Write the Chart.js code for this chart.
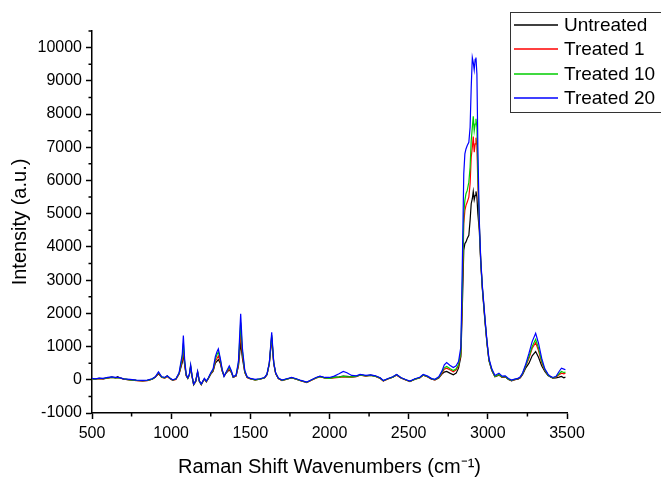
<!DOCTYPE html>
<html lang="en">
<head>
    <meta charset="UTF-8">
    <title>Raman spectra</title>
    <script src="https://cdn.jsdelivr.net/npm/chart.js"></script>
    <style>
        body { margin: 0; background: #fff; }
    </style>
</head>
<body>
    <canvas id="spectra" width="661" height="477"></canvas>
    <script>
        // wavenumbers (cm-1) shared by all four spectra
        const wavenumbers = [500, 520, 545, 570, 600, 625, 650, 662, 675, 700,
            740, 780, 820, 850, 880, 900, 920, 940, 960, 975,
            995, 1010, 1030, 1050, 1062, 1070, 1077, 1085, 1095, 1105,
            1115, 1123, 1132, 1142, 1155, 1167, 1178, 1190, 1200, 1210,
            1222, 1235, 1250, 1265, 1279, 1290, 1298, 1310, 1322, 1334,
            1350, 1367, 1380, 1392, 1410, 1425, 1439, 1450, 1465, 1480,
            1500, 1530, 1560, 1590, 1605, 1620, 1635, 1648, 1660, 1677,
            1700, 1730, 1761, 1790, 1820, 1856, 1890, 1915, 1940, 1970,
            2000, 2030, 2060, 2087, 2110, 2140, 2170, 2193, 2230, 2260,
            2290, 2320, 2340, 2370, 2400, 2424, 2450, 2480, 2508, 2540,
            2570, 2592, 2620, 2645, 2666, 2690, 2710, 2725, 2740, 2760,
            2782, 2800, 2815, 2830, 2840, 2848, 2855, 2862, 2870, 2880,
            2888, 2895, 2902, 2908, 2914, 2920, 2925, 2931, 2937, 2946,
            2955, 2965, 2982, 2995, 3007, 3025, 3045, 3070, 3090, 3110,
            3130, 3150, 3170, 3190, 3205, 3220, 3240, 3260, 3280, 3302,
            3320, 3340, 3360, 3380, 3393, 3410, 3430, 3450, 3465, 3480,
            3490];

        const untreated = [30, 20, 40, 30, 60, 80, 60, 90, 60, 20,
            0, -20, -30, -20, 20, 80, 180, 80, 60, 110,
            30, -10, 20, 180, 380, 520, 780, 450, 120, 40,
            150, 380, 100, -150, -50, 220, -50, -140, -50, 30,
            -60, 40, 170, 260, 500, 560, 610, 500, 260, 120,
            220, 300, 220, 80, 110, 420, 1110, 650, 220, 70,
            30, 0, 20, 60, 150, 480, 1250, 480, 190, 40,
            -20, 20, 60, 20, -30, -80, 0, 60, 100, 60,
            50, 80, 90, 110, 100, 90, 100, 150, 120, 140,
            110, 50, -30, 30, 80, 150, 60, 0, -50, 20,
            60, 140, 90, 20, 0, 50, 170, 230, 250, 200,
            150, 200, 350, 700, 2400, 3900, 4100, 4150, 4250, 4350,
            4800, 5300, 5450, 5670, 5420, 5550, 5670, 5500, 5000, 4500,
            3550, 2750, 1750, 1080, 580, 280, 90, 140, 70, 90,
            10, -30, 0, 20, 60, 160, 360, 500, 720, 850,
            680, 420, 250, 130, 90, 50, 60, 80, 100, 60,
            80];

        const treated1 = [20, 25, 35, 30, 50, 75, 55, 60, 55, 20,
            -5, -25, -30, -25, 15, 75, 200, 70, 50, 100,
            20, -20, 10, 170, 420, 600, 950, 500, 130, 45,
            150, 400, 100, -140, -50, 230, -40, -150, -60, 20,
            -60, 40, 180, 280, 560, 650, 720, 560, 280, 110,
            230, 330, 230, 70, 120, 450, 1420, 750, 230, 70,
            25, -5, 15, 55, 150, 490, 1300, 490, 190, 40,
            -25, 15, 55, 15, -35, -85, -5, 50, 90, 55,
            40, 60, 70, 90, 80, 80, 95, 140, 110, 130,
            100, 40, -35, 25, 75, 140, 55, -5, -55, 15,
            55, 135, 85, 15, -5, 60, 200, 320, 350, 300,
            240, 300, 420, 800, 2800, 4700, 5100, 5250, 5350, 5500,
            5900, 6700, 7000, 7320, 6850, 7100, 7290, 7050, 5900, 4650,
            3600, 2800, 1800, 1100, 600, 290, 100, 150, 80, 95,
            15, -25, 5, 25, 70, 180, 420, 650, 950, 1120,
            880, 520, 290, 150, 100, 60, 80, 150, 200, 180,
            200];

        const treated10 = [30, 20, 45, 35, 60, 70, 60, 65, 60, 25,
            0, -20, -25, -20, 20, 80, 220, 80, 60, 110,
            30, -10, 20, 190, 480, 680, 1100, 550, 140, 50,
            160, 420, 110, -140, -40, 240, -40, -140, -50, 30,
            -50, 50, 190, 300, 620, 760, 840, 620, 300, 110,
            240, 380, 250, 80, 130, 500, 1720, 850, 250, 80,
            30, 0, 20, 60, 160, 500, 1350, 500, 200, 45,
            -20, 20, 60, 20, -30, -80, 0, 55, 95, 60,
            45, 70, 80, 100, 90, 85, 100, 145, 115, 135,
            105, 45, -30, 30, 80, 150, 60, 0, -50, 20,
            60, 145, 95, 25, 5, 70, 230, 360, 400, 340,
            280, 330, 460, 850, 3000, 5000, 5400, 5600, 5700, 5950,
            6400, 7200, 7600, 7930, 7500, 7700, 7860, 7600, 6200, 4700,
            3600, 2800, 1800, 1100, 600, 300, 100, 160, 90, 100,
            20, -20, 10, 30, 80, 190, 440, 700, 1000, 1220,
            950, 560, 300, 150, 100, 60, 90, 180, 250, 220,
            230];

        const treated20 = [40, 30, 50, 40, 70, 85, 70, 70, 65, 30,
            10, -10, -20, -10, 30, 90, 240, 90, 70, 120,
            40, 0, 30, 210, 550, 760, 1330, 620, 160, 60,
            170, 450, 120, -130, -30, 260, -30, -130, -40, 40,
            -40, 60, 210, 330, 700, 850, 930, 650, 320, 100,
            260, 420, 270, 90, 140, 560, 1990, 950, 280, 90,
            40, 10, 30, 70, 170, 520, 1430, 520, 210, 50,
            -10, 30, 70, 30, -20, -70, 10, 70, 110, 70,
            70, 110, 180, 250, 210, 130, 120, 160, 130, 150,
            120, 60, -20, 40, 90, 160, 70, 10, -40, 30,
            75, 160, 110, 35, 15, 90, 260, 450, 520, 440,
            370, 420, 550, 1000, 3800, 6200, 6800, 6950, 7050, 7150,
            7600, 8800, 9700, 9550, 9330, 9650, 9700, 9200, 7000, 4800,
            3650, 2850, 1850, 1150, 640, 330, 130, 200, 110, 120,
            40, -10, 20, 40, 90, 210, 480, 800, 1150, 1400,
            1100, 650, 330, 170, 110, 70, 100, 250, 350, 320,
            300];

        const seriesNames = ['Untreated', 'Treated 1', 'Treated 10', 'Treated 20'];
        const seriesColors = ['#000000', '#ff0000', '#00cc00', '#0000ff'];
        const seriesValues = [untreated, treated1, treated10, treated20];

        // axis tick values
        const xTicks = [500, 1000, 1500, 2000, 2500, 3000, 3500];
        const yTicks = [-1000, 0, 1000, 2000, 3000, 4000, 5000, 6000, 7000, 8000, 9000, 10000];

        const fontFamily = "'Liberation Sans', Arial, sans-serif";

        function plainLabel(value) {
            return String(Math.round(value));
        }

        function toPoints(values) {
            return wavenumbers.map(function (w, i) { return {x: w, y: values[i]}; });
        }

        // Origin style minor ticks (x every 250, y every 500)
        const minorTicks = {
            id: 'minorTicks',
            afterDraw(chart) {
                const ctx = chart.ctx;
                const xs = chart.scales.x;
                const ys = chart.scales.y;
                ctx.save();
                ctx.strokeStyle = '#000';
                ctx.lineWidth = 1.5;
                ctx.beginPath();
                for (let v = 750; v < 3500; v += 500) {
                    const px = xs.getPixelForValue(v);
                    ctx.moveTo(px, ys.bottom);
                    ctx.lineTo(px, ys.bottom + 3.5);
                }
                for (let v = -500; v <= 10500; v += 1000) {
                    const py = ys.getPixelForValue(v);
                    ctx.moveTo(xs.left, py);
                    ctx.lineTo(xs.left - 3.5, py);
                }
                ctx.stroke();
                ctx.restore();
            }
        };

        // boxed legend in the upper right corner
        const boxLegend = {
            id: 'boxLegend',
            afterDraw(chart) {
                const ctx = chart.ctx;
                ctx.save();
                ctx.fillStyle = '#fff';
                ctx.fillRect(510, 12, 160, 100);
                ctx.strokeStyle = '#333';
                ctx.lineWidth = 1;
                ctx.strokeRect(510.5, 12.5, 160, 100);
                ctx.font = '19px ' + fontFamily;
                ctx.textBaseline = 'middle';
                ctx.textAlign = 'left';
                seriesNames.forEach(function (name, i) {
                    const y = Math.round(25 + i * 24.3);
                    ctx.strokeStyle = seriesColors[i];
                    ctx.lineWidth = 1.3;
                    ctx.beginPath();
                    ctx.moveTo(514, y);
                    ctx.lineTo(558, y);
                    ctx.stroke();
                    ctx.fillStyle = '#000';
                    ctx.fillText(name, 564, y + 1);
                });
                ctx.restore();
            }
        };

        const datasets = seriesNames.map(function (name, i) {
            return {
                label: name,
                data: toPoints(seriesValues[i]),
                borderColor: seriesColors[i],
                borderWidth: 1.2,
                pointRadius: 0,
                tension: 0,
                fill: false,
                order: seriesNames.length - i
            };
        });

        new Chart(document.getElementById('spectra').getContext('2d'), {
            type: 'line',
            data: { datasets: datasets },
            options: {
                responsive: false,
                animation: false,
                layout: { padding: { left: 0, right: 94, top: 31, bottom: 0 } },
                plugins: {
                    legend: { display: false },
                    tooltip: { enabled: false }
                },
                scales: {
                    x: {
                        type: 'linear',
                        min: 500,
                        max: 3500,
                        afterBuildTicks(scale) { scale.ticks = xTicks.map(function (v) { return {value: v}; }); },
                        ticks: { callback: plainLabel, color: '#000', padding: 5, font: { size: 16, family: fontFamily } },
                        grid: { drawOnChartArea: false, drawTicks: true, tickLength: 6, tickWidth: 1.5, tickColor: '#000' },
                        border: { display: true, color: '#000', width: 1.5 },
                        title: {
                            display: true,
                            text: 'Raman Shift Wavenumbers (cm\u207B\u00B9)',
                            color: '#000',
                            padding: { top: 0, bottom: 0 },
                            font: { size: 20, family: fontFamily, lineHeight: 1 }
                        },
                        afterFit(scale) { scale.height = 64; }
                    },
                    y: {
                        type: 'linear',
                        min: -1000,
                        max: 10500,
                        afterBuildTicks(scale) { scale.ticks = yTicks.map(function (v) { return {value: v}; }); },
                        ticks: { callback: plainLabel, color: '#000', padding: 4, font: { size: 16, family: fontFamily } },
                        grid: { drawOnChartArea: false, drawTicks: true, tickLength: 6, tickWidth: 1.5, tickColor: '#000' },
                        border: { display: true, color: '#000', width: 1.5 },
                        title: {
                            display: true,
                            text: 'Intensity (a.u.)',
                            color: '#000',
                            padding: { top: 8, bottom: 0 },
                            font: { size: 20, family: fontFamily }
                        },
                        afterFit(scale) { scale.width = 92; }
                    }
                }
            },
            plugins: [minorTicks, boxLegend]
        });
    </script>
</body>
</html>
